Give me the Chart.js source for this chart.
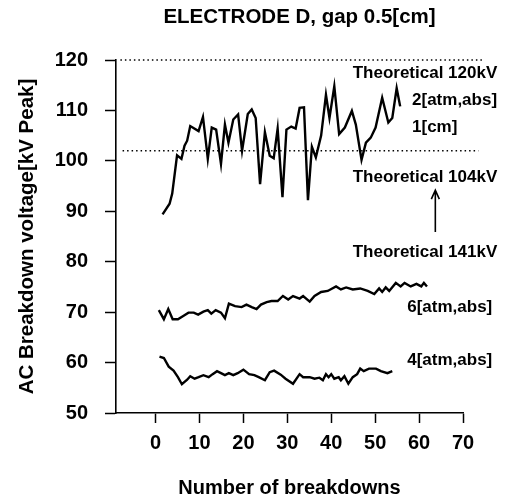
<!DOCTYPE html>
<html>
<head>
<meta charset="utf-8">
<script src="https://cdn.jsdelivr.net/npm/chart.js@4"></script>
<style>
html,body{margin:0;padding:0;background:#fff;}
#c{display:block;}
</style>
</head>
<body>
<canvas id="c" width="507" height="504"></canvas>
<script>
// ---- data ----
const xTicks = [0, 10, 20, 30, 40, 50, 60, 70];
const yTicks = [50, 60, 70, 80, 90, 100, 110, 120];

const x2atm = [1.6,3.2,3.8,4.9,5.9,6.6,7.2,7.9,9.8,10.8,11.7,11.9,12.8,13.8,14.9,15.8,16.6,17.7,18.8,19.7,21,21.9,22.8,23.8,24.9,26,26.9,27.8,28.9,29.8,30.9,31.9,32.8,33.8,34.7,35.6,36.5,37.7,38.8,39.6,40.7,41.8,43.1,44.7,45.6,46.9,47.9,49,50.1,51.6,53,53.9,54.9,55.7];
const y2atm = [89.4,91.5,93.5,101.1,100.4,103,104,106.9,105.9,108.7,102,100.4,106.6,106.2,99.4,107.2,103.6,108.2,109.2,102,109.3,110.2,108.5,95.4,105.7,101,100.5,106.4,92.8,106.2,106.8,106.4,110.5,110.6,92.2,102.8,100.7,105,113.1,108.5,114.8,105.3,106.6,109.9,107.2,100.2,103.6,104.6,106.6,112.5,107.6,108.5,114.4,110.8];

const x6atm = [0.75,1.9,2.9,3.9,5.1,6.4,7.5,8.7,9.7,10.9,11.9,12.7,13.7,14.9,15.8,16.7,18.1,19.6,20.7,21.9,23,24,25.3,26.4,27.8,29,30.2,31.3,32.8,33.6,35.1,36.2,37.7,39.2,41.1,42.2,43.4,44.9,46.6,48.3,49.8,50.9,51.6,52.4,53.2,54.7,55.8,56.7,58.1,59.4,60.5,61.1,61.8];
const y6atm = [70.4,68.6,70.6,68.6,68.6,69.3,69.9,69.9,69.5,70.1,70.4,69.7,70.4,69.9,68.8,71.7,71.2,71.0,71.5,71.0,70.6,71.5,72.0,72.2,72.2,73.2,72.5,73.2,72.7,73.2,72.1,73.2,74.0,74.2,75.1,74.5,74.9,74.5,74.7,74.2,73.6,74.7,74.0,74.9,74.2,75.8,75.1,75.8,75.1,75.6,75.1,75.8,75.1];

const x4atm = [0.9,1.9,3.0,4.1,5.1,6.0,7.2,7.9,8.9,9.8,10.9,12.1,13,14,14.9,15.8,16.7,17.7,18.7,20,21.3,22.5,23.5,24.9,26,27,28.5,29.6,31.3,32.8,33.6,35.1,36.2,37.3,38.1,38.8,39.4,40,40.7,41.7,42.2,43,43.9,44.9,45.9,46.6,47.4,48.6,50.2,51.3,52.8,53.9];
const y4atm = [61.2,60.9,59.2,58.4,57.1,55.7,56.6,57.3,56.8,57.1,57.5,57.1,57.7,58.3,57.9,57.5,57.9,57.5,57.9,58.6,57.7,57.5,57.1,56.5,58.1,58.4,57.6,56.8,55.8,57.7,57.1,57.1,56.8,57.0,56.5,57.7,57.1,57.7,56.8,57.1,56.5,57.3,55.8,57.1,57.7,58.8,58.3,58.8,58.8,58.3,57.9,58.3];

// theoretical reference levels (dotted lines)
const refLevels = [120, 102];
const refXStart = [-8, -7.5];
const refXEnd = [74.6, 73.5];

// ---- text annotations (anchored in data units) ----
const notes = [
  {text: 'Theoretical 120kV', x: 77.8, y: 117.4, align: 'right'},
  {text: '2[atm,abs]',        x: 58.4, y: 112.1, align: 'left'},
  {text: '1[cm]',             x: 58.4, y: 106.7, align: 'left'},
  {text: 'Theoretical 104kV', x: 77.8, y: 96.8,  align: 'right'},
  {text: 'Theoretical 141kV', x: 77.8, y: 81.9,  align: 'right'},
  {text: '6[atm,abs]',        x: 57.3, y: 71.0,  align: 'left'},
  {text: '4[atm,abs]',        x: 57.3, y: 60.5,  align: 'left'}
];
const arrowNote = {x: 63.7, yFrom: 85.9, yTo: 94.2};

const FONT = "'Liberation Sans', Arial, sans-serif";
const pts = (xs, ys) => xs.map((x, i) => ({x: x, y: ys[i]}));

const seriesStyle = {borderColor: '#000', backgroundColor: '#000', borderWidth: 2.4, pointRadius: 0, tension: 0, fill: false};

const datasets = [
  Object.assign({label: '2[atm,abs] 1[cm]', data: pts(x2atm, y2atm)}, seriesStyle),
  Object.assign({label: '6[atm,abs]', data: pts(x6atm, y6atm)}, seriesStyle),
  Object.assign({label: '4[atm,abs]', data: pts(x4atm, y4atm)}, seriesStyle)
];
refLevels.forEach((lv, i) => {
  datasets.push({
    label: 'ref' + lv,
    data: [{x: refXStart[i], y: lv}, {x: refXEnd[i], y: lv}],
    borderColor: '#000', borderWidth: 1.3, borderDash: [1.5, 3], pointRadius: 0, clip: false, fill: false
  });
});

const annotatePlugin = {
  id: 'annot',
  afterLayout(chart) {
    if (chart.titleBlock) { chart.titleBlock.left += 10; chart.titleBlock.right += 10; }
  },
  afterDatasetsDraw(chart) {
    const ctx = chart.ctx, xs = chart.scales.x, ys = chart.scales.y;
    ctx.save();
    ctx.fillStyle = '#000';
    ctx.font = 'bold 17px ' + FONT;
    ctx.textBaseline = 'middle';
    notes.forEach(n => {
      ctx.textAlign = n.align;
      ctx.fillText(n.text, xs.getPixelForValue(n.x), ys.getPixelForValue(n.y));
    });
    // arrow
    const ax = xs.getPixelForValue(arrowNote.x);
    const y0 = ys.getPixelForValue(arrowNote.yFrom), y1 = ys.getPixelForValue(arrowNote.yTo);
    ctx.strokeStyle = '#000';
    ctx.lineWidth = 1.6;
    ctx.beginPath();
    ctx.moveTo(ax, y0); ctx.lineTo(ax, y1);
    ctx.moveTo(ax - 4, y1 + 9); ctx.lineTo(ax, y1); ctx.lineTo(ax + 4, y1 + 9);
    ctx.stroke();
    ctx.restore();
  }
};

new Chart(document.getElementById('c'), {
  type: 'line',
  data: {datasets: datasets},
  plugins: [annotatePlugin],
  options: {
    responsive: false,
    animation: false,
    layout: {padding: {top: 0, right: 44, bottom: 0, left: 0}},
    plugins: {
      legend: {display: false},
      tooltip: {enabled: false},
      title: {
        display: true,
        text: 'ELECTRODE D, gap 0.5[cm]',
        fullSize: false,
        color: '#000',
        font: {family: FONT, size: 20.5, weight: 'bold', lineHeight: 1.2},
        padding: {top: 5, bottom: 30.4}
      }
    },
    scales: {
      x: {
        type: 'linear',
        min: -9, max: 70,
        afterBuildTicks(s) { s.ticks = xTicks.map(v => ({value: v})); },
        afterFit(s) { s.height = 91; },
        ticks: {color: '#000', padding: 8, font: {family: FONT, size: 20, weight: 'bold'}},
        grid: {display: true, drawOnChartArea: false, drawTicks: true, tickLength: 10, tickWidth: 1.5, tickColor: '#000'},
        border: {display: true, color: '#000', width: 1.6},
        title: {display: true, text: 'Number of breakdowns', color: '#000',
                font: {family: FONT, size: 20, weight: 'bold', lineHeight: 1.2}, padding: {top: 0, bottom: 4}}
      },
      y: {
        type: 'linear',
        min: 50, max: 120,
        afterBuildTicks(s) { s.ticks = yTicks.map(v => ({value: v})); },
        afterFit(s) { s.width = 116; },
        ticks: {color: '#000', padding: 17, font: {family: FONT, size: 20, weight: 'bold'}},
        grid: {display: true, drawOnChartArea: false, drawTicks: true, tickLength: 11, tickWidth: 1.5, tickColor: '#000'},
        border: {display: true, color: '#000', width: 1.6},
        title: {display: true, text: 'AC Breakdown voltage[kV Peak]', color: '#000',
                font: {family: FONT, size: 20.5, weight: 'bold', lineHeight: 1.2}, padding: {top: 15, bottom: 0}}
      }
    }
  }
});
</script>
</body>
</html>
